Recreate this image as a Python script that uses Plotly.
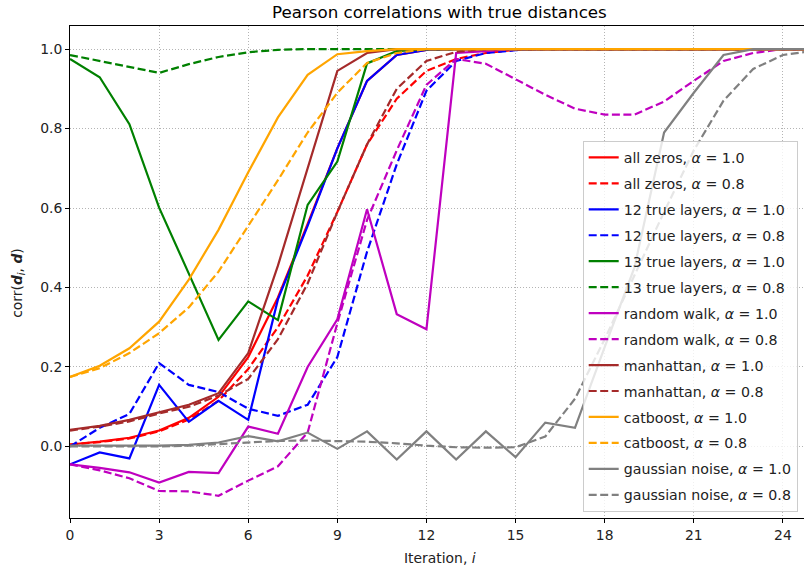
import plotly.graph_objects as go

iterations = list(range(26))

all_zeros_10 = [0.005, 0.012, 0.022, 0.04, 0.072, 0.125, 0.225, 0.375, 0.56, 0.75, 0.92, 0.985, 0.998, 1.0,
                1.0, 1.0, 1.0, 1.0, 1.0, 1.0, 1.0, 1.0, 1.0, 1.0, 1.0, 1.0]
all_zeros_08 = [0.005, 0.011, 0.02, 0.038, 0.068, 0.115, 0.195, 0.30, 0.43, 0.59, 0.76, 0.875, 0.945, 0.975,
                0.99, 0.998, 1.0, 1.0, 1.0, 1.0, 1.0, 1.0, 1.0, 1.0, 1.0, 1.0]
true12_10 = [-0.045, -0.015, -0.03, 0.155, 0.062, 0.115, 0.067, 0.37, 0.555, 0.75, 0.92, 0.985, 0.998, 1.0,
             1.0, 1.0, 1.0, 1.0, 1.0, 1.0, 1.0, 1.0, 1.0, 1.0, 1.0, 1.0]
true12_08 = [0.0, 0.047, 0.082, 0.21, 0.155, 0.137, 0.095, 0.077, 0.105, 0.225, 0.49, 0.71, 0.895, 0.97,
             0.99, 0.997, 1.0, 1.0, 1.0, 1.0, 1.0, 1.0, 1.0, 1.0, 1.0, 1.0]
true13_10 = [0.975, 0.929, 0.811, 0.601, 0.435, 0.268, 0.365, 0.318, 0.608, 0.717, 0.964, 0.995, 1.0, 1.0,
             1.0, 1.0, 1.0, 1.0, 1.0, 1.0, 1.0, 1.0, 1.0, 1.0, 1.0, 1.0]
true13_08 = [0.985, 0.97, 0.955, 0.94, 0.962, 0.98, 0.992, 0.998, 1.0, 1.0, 1.0, 1.0, 1.0, 1.0,
             1.0, 1.0, 1.0, 1.0, 1.0, 1.0, 1.0, 1.0, 1.0, 1.0, 1.0, 1.0]
random_walk_10 = [-0.045, -0.054, -0.065, -0.091, -0.064, -0.067, 0.05, 0.032, 0.20, 0.32, 0.597, 0.333, 0.295,
                  0.99, 0.995, 1.0, 1.0, 1.0, 1.0, 1.0, 1.0, 1.0, 1.0, 1.0, 1.0, 1.0]
random_walk_08 = [-0.045, -0.06, -0.08, -0.112, -0.113, -0.124, -0.086, -0.05, 0.035, 0.31, 0.57, 0.745, 0.91,
                  0.975, 0.963, 0.925, 0.885, 0.85, 0.835, 0.835, 0.868, 0.92, 0.97, 0.99, 1.0, 1.0]
manhattan_10 = [0.042, 0.052, 0.067, 0.086, 0.105, 0.134, 0.235, 0.455, 0.70, 0.945, 0.99, 1.0, 1.0, 1.0,
                1.0, 1.0, 1.0, 1.0, 1.0, 1.0, 1.0, 1.0, 1.0, 1.0, 1.0, 1.0]
manhattan_08 = [0.04, 0.05, 0.063, 0.083, 0.10, 0.128, 0.17, 0.27, 0.41, 0.59, 0.76, 0.90, 0.97, 0.993,
                1.0, 1.0, 1.0, 1.0, 1.0, 1.0, 1.0, 1.0, 1.0, 1.0, 1.0, 1.0]
catboost_10 = [0.175, 0.203, 0.247, 0.314, 0.42, 0.545, 0.69, 0.828, 0.935, 0.987, 0.995, 1.0, 1.0, 1.0,
               1.0, 1.0, 1.0, 1.0, 1.0, 1.0, 1.0, 1.0, 1.0, 1.0, 1.0, 1.0]
catboost_08 = [0.175, 0.197, 0.235, 0.285, 0.35, 0.44, 0.555, 0.67, 0.79, 0.89, 0.965, 0.99, 1.0, 1.0,
               1.0, 1.0, 1.0, 1.0, 1.0, 1.0, 1.0, 1.0, 1.0, 1.0, 1.0, 1.0]
gaussian_10 = [0.002, 0.002, 0.002, 0.002, 0.004, 0.01, 0.026, 0.013, 0.035, -0.006, 0.038, -0.033, 0.038,
               -0.033, 0.038, -0.027, 0.06, 0.047, 0.25, 0.45, 0.79, 0.89, 0.985, 1.0, 1.0, 1.0]
gaussian_08 = [0.0, 0.0, 0.0, 0.0, 0.002, 0.006, 0.011, 0.014, 0.015, 0.014, 0.012, 0.008, 0.002, -0.002,
               -0.003, -0.002, 0.025, 0.12, 0.27, 0.43, 0.59, 0.745, 0.87, 0.95, 0.985, 0.995]

method_names = ["all zeros", "12 true layers", "13 true layers", "random walk",
                "manhattan", "catboost", "gaussian noise"]
method_colors = ["#ff0000", "#0000ff", "#008000", "#bf00bf", "#a52a2a", "#ffa500", "#808080"]
series_10 = [all_zeros_10, true12_10, true13_10, random_walk_10, manhattan_10, catboost_10, gaussian_10]
series_08 = [all_zeros_08, true12_08, true13_08, random_walk_08, manhattan_08, catboost_08, gaussian_08]

FONT = "DejaVu Sans"
fig = go.Figure()
k = 0
for name, color, s10, s08 in zip(method_names, method_colors, series_10, series_08):
    for vals, alpha, dash in ((s10, "1.0", "solid"), (s08, "0.8", "8px,3.5px")):
        fig.add_trace(go.Scatter(
            x=iterations, y=vals, mode="lines",
            name=f"{name}, <i>α</i> = {alpha}",
            legendgroup=str(k),
            line=dict(color=color, width=2.2, dash=dash),
        ))
        k += 1

axis_common = dict(
    showline=True, linecolor="black", linewidth=1,
    ticks="outside", ticklen=4, tickwidth=1, tickcolor="black",
    showgrid=True, gridcolor="#b4b4b4", gridwidth=0.8, griddash="1px,2px",
    zeroline=False, tickfont=dict(family=FONT, size=13.9, color="#222"),
)

fig.update_layout(
    width=804, height=571, autosize=False,
    margin=dict(l=70, r=0, t=26, b=53, autoexpand=False),
    paper_bgcolor="white", plot_bgcolor="white",
    font=dict(family=FONT, color="#222"),
    xaxis=dict(range=[0, 24.71], tickvals=list(range(0, 25, 3)), mirror=True, **axis_common),
    yaxis=dict(range=[-0.18, 1.058], tickvals=[0.0, 0.2, 0.4, 0.6, 0.8, 1.0], tickformat=".1f",
               mirror=False, **axis_common),
    legend=dict(
        x=0.6985, y=0.767, xanchor="left", yanchor="top",
        bgcolor="rgba(255,255,255,0.8)", bordercolor="#cccccc", borderwidth=1,
        font=dict(family=FONT, size=14.2, color="#222"),
        tracegroupgap=4.5, itemwidth=30,
    ),
    showlegend=True,
    annotations=[
        dict(text="Pearson correlations with true distances", xref="paper", yref="paper",
             x=0.504, y=1, yshift=14, xanchor="center", yanchor="middle", showarrow=False,
             font=dict(family=FONT, size=16.7, color="black")),
        dict(text="Iteration, <i>i</i>", xref="paper", yref="paper",
             x=0.504, y=0, yshift=-40, xanchor="center", yanchor="middle", showarrow=False,
             font=dict(family=FONT, size=13.9, color="#222")),
        dict(text="corr(<b><i>d</i></b><sub><i>i</i></sub>, <b><i>d</i></b>)", xref="paper", yref="paper",
             x=0, xshift=-52, y=0.478, xanchor="center", yanchor="middle", showarrow=False, textangle=-90,
             font=dict(family=FONT, size=13.9, color="#222")),
    ],
)

fig.write_html("out.html", config={"displayModeBar": False},
               post_script="document.body.style.margin='0px';document.body.style.overflow='hidden';")
